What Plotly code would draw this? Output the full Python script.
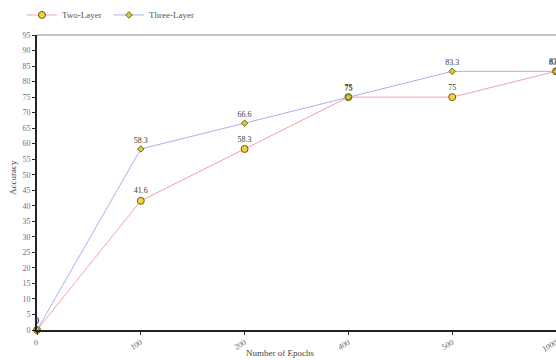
import plotly.graph_objects as go

epochs = ["0", "100", "200", "400", "500", "1000"]
two_layer = [0, 41.6, 58.3, 75, 75, 83.3]
three_layer = [0, 58.3, 66.6, 75, 83.3, 83.3]
two_labels = ["0", "41.6", "58.3", "75", "75", "83.3"]
three_labels = ["0", "58.3", "66.6", "75", "83.3", "83.3"]
y_ticks = list(range(0, 96, 5))
x_title = "Number of Epochs"
y_title = "Accuracy"

font_family = "Liberation Serif"

fig = go.Figure()
fig.add_trace(go.Scatter(
    x=epochs, y=two_layer, name="Two-Layer", mode="lines+markers+text",
    text=two_labels, textposition="top center",
    textfont=dict(size=8, color="#3a3a3a", family=font_family),
    line=dict(color="#f4a0a8", width=1),
    marker=dict(symbol="circle", size=7, color="#f2d23c", line=dict(color="#6b5a10", width=1)),
    cliponaxis=False,
))
fig.add_trace(go.Scatter(
    x=epochs, y=three_layer, name="Three-Layer", mode="lines+markers+text",
    text=three_labels, textposition="top center",
    textfont=dict(size=8, color="#3a3a3a", family=font_family),
    line=dict(color="#a8b0f0", width=1),
    marker=dict(symbol="diamond", size=5, color="#d8c83c", line=dict(color="#6b6a10", width=1)),
    cliponaxis=False,
))

fig.update_layout(
    width=556, height=360,
    margin=dict(l=37, r=0, t=35, b=30, autoexpand=False),
    paper_bgcolor="white", plot_bgcolor="white",
    font=dict(family=font_family, size=8, color="#555555"),
    showlegend=True,
    legend=dict(orientation="h", x=0.0395, y=1.068, xref="container", yref="paper",
                xanchor="left", yanchor="middle", font=dict(size=9, color="#555555"),
                itemwidth=30, entrywidth=42, entrywidthmode="pixels",
                bgcolor="rgba(0,0,0,0)"),
    xaxis=dict(
        type="category", range=[0, 5], showgrid=False, zeroline=False, automargin=False,
        showline=True, linecolor="#222222", linewidth=2,
        ticks="outside", ticklen=3, tickcolor="#222222", tickangle=-30,
        tickfont=dict(size=8, color="#666666"),
    ),
    yaxis=dict(
        range=[0, 95], tickvals=y_ticks, showgrid=False, zeroline=False, automargin=False,
        showline=True, linecolor="#222222", linewidth=2,
        ticks="outside", ticklen=3, tickcolor="#222222",
        tickfont=dict(size=8, color="#7a6a80"),
    ),
    annotations=[
        dict(text=x_title, xref="paper", yref="paper", x=(280 - 37) / 519, y=-23 / 295,
             xanchor="center", yanchor="middle", showarrow=False,
             font=dict(size=9, color="#444444")),
        dict(text=y_title, xref="paper", yref="paper", x=-24 / 519, y=(330 - 178) / 295,
             xanchor="center", yanchor="middle", showarrow=False, textangle=-90,
             font=dict(size=9, color="#444444")),
    ],
    shapes=[dict(type="line", xref="paper", yref="paper", x0=0, x1=1, y0=1, y1=1,
                 line=dict(color="#888888", width=1))],
)

fig.write_html("out.html", config={"displayModeBar": False},
               post_script="document.body.style.margin='0';document.body.style.overflow='hidden';")
